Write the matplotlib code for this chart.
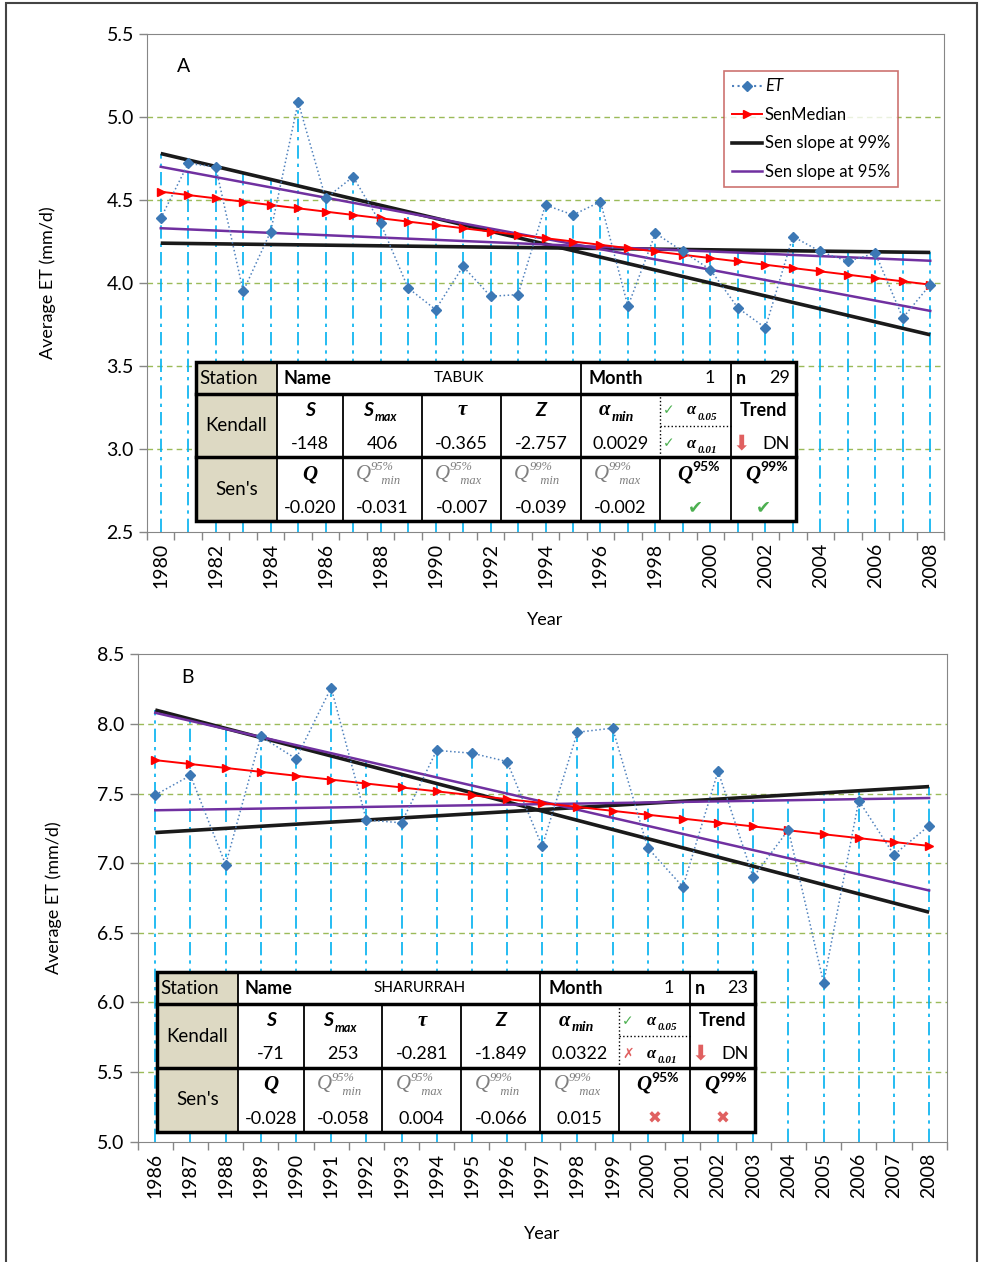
import numpy as np
import matplotlib
matplotlib.use("Agg")
import matplotlib.pyplot as plt
from matplotlib.patches import Rectangle
from matplotlib.lines import Line2D
from matplotlib.transforms import offset_copy

plt.rcParams['font.family'] = ['Lato', 'DejaVu Sans']

# ---- panel A : TABUK ----
years_a = list(range(1980, 2009))
et_a = [4.39, 4.72, 4.70, 3.95, 4.31, 5.09, 4.51, 4.64, 4.36, 3.97, 3.84, 4.10, 3.92, 3.93, 4.47,
        4.41, 4.49, 3.86, 4.30, 4.19, 4.08, 3.85, 3.73, 4.28, 4.19, 4.13, 4.18, 3.79, 3.99]
# Sen lines: value at first year and slope (Q from the table)
median_a = (4.55, -0.020)
s95_a = [(4.70, -0.031), (4.33, -0.007)]
s99_a = [(4.78, -0.039), (4.24, -0.002)]
kendall_a = ["-148", "406", "-0.365", "-2.757", "0.0029"]
sen_a = ["-0.020", "-0.031", "-0.007", "-0.039", "-0.002"]

# ---- panel B : SHARURRAH ----
years_b = list(range(1986, 2009))
et_b = [7.49, 7.63, 6.99, 7.91, 7.75, 8.26, 7.31, 7.29, 7.81, 7.79, 7.73, 7.12,
        7.94, 7.97, 7.11, 6.83, 7.66, 6.90, 7.24, 6.14, 7.45, 7.06, 7.27]
median_b = (7.74, -0.028)
s95_b = [(8.08, -0.058), (7.38, 0.004)]
s99_b = [(8.10, -0.066), (7.22, 0.015)]
kendall_b = ["-71", "253", "-0.281", "-1.849", "0.0322"]
sen_b = ["-0.028", "-0.058", "0.004", "-0.066", "0.015"]

fig = plt.figure(figsize=(9.81, 12.62), dpi=100)
fig.patches.append(Rectangle((6 / 981, -0.01), 971 / 981, 1.0077, transform=fig.transFigure,
                             fill=False, ec='#444444', lw=1.5))

GREEN = '#4caf50'
PINK = '#e06060'
W = [0.135, 0.11, 0.132, 0.132, 0.132, 0.132, 0.118, 0.109]


def hline(ax, x0, x1, y, **kw):
    ax.plot([x0, x1], [y, y], transform=ax.transAxes, clip_on=False, zorder=12, **kw)


def vline(ax, x, y0, y1, **kw):
    ax.plot([x, x], [y0, y1], transform=ax.transAxes, clip_on=False, zorder=12, **kw)


def txt(ax, x, y, s, **kw):
    kw.setdefault('ha', 'center')
    kw.setdefault('va', 'center')
    kw.setdefault('fontsize', 13)
    ax.text(x, y, s, transform=ax.transAxes, zorder=13, clip_on=False, **kw)


def combo(ax, x, y, main, sub=None, sup=None, mkw=None, skw=None, up=6):
    # main text ends at x, sub/superscript start at x
    ax.text(x, y, main, transform=ax.transAxes, ha='right', va='center', zorder=13, **mkw)
    if sup:
        t = offset_copy(ax.transAxes, fig=fig, x=0, y=up, units='points')
        ax.text(x, y, sup, transform=t, ha='left', va='center', zorder=13, **skw)
    if sub:
        t = offset_copy(ax.transAxes, fig=fig, x=1, y=-5, units='points')
        ax.text(x, y, sub, transform=t, ha='left', va='center', zorder=13, **skw)


def draw_table(ax, x0, y0, w, h, name, n, kvals, svals, a05, a01, q95, q99):
    tr = ax.transAxes
    xs = x0 + w * np.cumsum([0] + W)
    yt = y0 + h
    y1 = y0 + 0.8 * h
    y2 = y0 + 0.4 * h
    ax.add_patch(Rectangle((x0, y0), w, h, transform=tr, fc='white', ec='none', zorder=10, clip_on=False))
    ax.add_patch(Rectangle((x0, y0), xs[1] - x0, h, transform=tr, fc='#ddd9c3', ec='none',
                           zorder=10, clip_on=False))
    ax.add_patch(Rectangle((x0, y0), w, h, transform=tr, fc='none', ec='black', lw=2.5,
                           zorder=12, clip_on=False))
    hline(ax, x0, x0 + w, y1, color='black', lw=2.5)
    hline(ax, x0, x0 + w, y2, color='black', lw=2.5)
    for i in (1, 5, 7):
        vline(ax, xs[i], y1, yt, color='black', lw=1.3)
    for i in range(1, 8):
        if i == 6:
            vline(ax, xs[i], y2, y1, color='black', lw=1, ls=':')
        else:
            vline(ax, xs[i], y2, y1, color='black', lw=1.3)
        vline(ax, xs[i], y0, y2, color='black', lw=1.3)
    # dotted split in the alpha column
    hline(ax, xs[6], xs[7], (y1 + y2) / 2, color='black', lw=1, ls=':')

    rh = y1 - y2
    r1 = (yt + y1) / 2
    khead, kval = y1 - 0.26 * rh, y1 - 0.78 * rh
    shead, sval = y2 - 0.26 * rh, y2 - 0.79 * rh
    cx = (xs[:-1] + xs[1:]) / 2

    txt(ax, xs[0] + 0.004, r1, "Station", ha='left', fontsize=13.5)
    txt(ax, cx[0], (y1 + y2) / 2, "Kendall", fontsize=13.5)
    txt(ax, cx[0], (y2 + y0) / 2, "Sen's", fontsize=13.5)
    txt(ax, xs[1] + 0.008, r1, "Name", ha='left', fontweight='bold', fontsize=13)
    txt(ax, xs[1] + 0.6 * (xs[5] - xs[1]), r1, name, fontsize=11)
    txt(ax, xs[5] + 0.01, r1, "Month", ha='left', fontweight='bold', fontsize=13)
    txt(ax, xs[7] - 0.02, r1, "1", ha='right', fontsize=13)
    txt(ax, xs[7] + 0.006, r1, "n", ha='left', fontweight='bold', fontsize=13)
    txt(ax, xs[8] - 0.008, r1, n, ha='right', fontsize=13)

    bi = dict(fontsize=14, fontweight='bold', fontstyle='italic')
    bis = dict(fontsize=9, fontweight='bold', fontstyle='italic')
    serif_bi = dict(fontsize=15, fontweight='bold', fontstyle='italic', family='Liberation Serif')
    serif_bis = dict(fontsize=10, fontweight='bold', fontstyle='italic', family='Liberation Serif')
    txt(ax, cx[1], khead, "S", **bi)
    combo(ax, cx[2] - 0.012, khead, "S", sub="max", mkw=bi, skw=bis)
    txt(ax, cx[3], khead, "τ", **serif_bi)
    txt(ax, cx[4], khead, "Z", **bi)
    combo(ax, cx[5] - 0.012, khead, "α", sub="min", mkw=serif_bi, skw=serif_bis)
    for i, v in enumerate(kvals):
        txt(ax, cx[i + 1], kval, v, fontsize=13)

    marks = {True: ("✓", GREEN), False: ("✗", PINK)}
    for yy, ok, lab in ((khead, a05, "0.05"), (kval, a01, "0.01")):
        m, c = marks[ok]
        txt(ax, xs[6] + 0.011, yy, m, color=c, fontsize=10, family='DejaVu Sans')
        combo(ax, xs[6] + 0.046, yy, "α", sub=lab,
              mkw=dict(fontsize=12, fontstyle='italic', fontweight='bold', family='Liberation Serif'),
              skw=dict(fontsize=8, fontstyle='italic', fontweight='bold', family='Liberation Serif'))
    txt(ax, cx[7], khead, "Trend", fontweight='bold', fontsize=13)
    txt(ax, xs[7] + 0.013, kval, "⬇", color=PINK, fontsize=15, family='DejaVu Sans')
    txt(ax, xs[8] - 0.008, kval, "DN", ha='right', fontsize=13)

    txt(ax, cx[1], shead, "Q", **serif_bi)
    gi = dict(fontsize=15, fontstyle='italic', family='Liberation Serif', color='#7f7f7f')
    gis = dict(fontsize=9, fontstyle='italic', family='Liberation Serif', color='#7f7f7f')
    for i, (sp, sb) in enumerate((("95%", "min"), ("95%", "max"), ("99%", "min"), ("99%", "max"))):
        combo(ax, xs[i + 2] + 0.035, shead, "Q", sub="   " + sb, sup=sp, mkw=gi, skw=gis, up=5)
    for i, v in enumerate(svals):
        txt(ax, cx[i + 1], sval, v, fontsize=13)
    for k, (lab, ok) in enumerate((("95%", q95), ("99%", q99))):
        combo(ax, cx[6 + k] - 0.004, shead, "Q", sup=lab, mkw=serif_bi,
              skw=dict(fontsize=10, fontweight='bold'), up=5)
        if ok:
            txt(ax, cx[6 + k], sval, "✔", color=GREEN, fontsize=13, family='DejaVu Sans')
        else:
            txt(ax, cx[6 + k], sval, "✖", color=PINK, fontsize=12, family='DejaVu Sans')


def panel(rect, years, et, median, s95, s99, ylim, ylabels_every, letter, letter_pos, ylab_x, xlab_y):
    ax = fig.add_axes(rect)
    yrs = np.array(years)
    t = yrs - yrs[0]
    med = median[0] + median[1] * t
    l95 = [a + b * t for a, b in s95]
    l99 = [a + b * t for a, b in s99]
    tops = np.max(np.vstack([et, med] + l95 + l99), axis=0)
    ax.vlines(yrs, ylim[0], tops, colors='#00b0f0', linestyles=(0, (8, 3, 2, 3)), lw=1.2, zorder=1)
    for g in np.arange(ylim[0] + 0.5, ylim[1], 0.5):
        ax.axhline(g, color='#9bbb59', ls=(0, (4, 3)), lw=1, zorder=0.5)
    for l in l99:
        ax.plot(yrs, l, color='#1a1a1a', lw=2.6, zorder=3, solid_capstyle='butt')
    for l in l95:
        ax.plot(yrs, l, color='#7030a0', lw=1.8, zorder=3.5)
    ax.plot(yrs, med, color='#ff0000', lw=1.4, marker='>', ms=6, zorder=4)
    ax.plot(yrs, et, color='#4f81bd', ls=':', lw=1.1, marker='D', ms=5, mfc='#3c78b5',
            mec='#3c78b5', zorder=5)

    ax.set_xlim(yrs[0] - 0.5, yrs[-1] + 0.5)
    ax.set_ylim(*ylim)
    ax.set_yticks(np.arange(ylim[0], ylim[1] + 0.01, 0.5))
    ax.set_yticklabels([f"{v:.1f}" for v in np.arange(ylim[0], ylim[1] + 0.01, 0.5)], fontsize=14)
    ax.set_xticks(np.arange(yrs[0] - 0.5, yrs[-1] + 0.6, 1.0))
    ax.set_xticklabels([])
    ax.set_xticks(yrs[::ylabels_every], [str(y) for y in years[::ylabels_every]], minor=True,
                  rotation=90, fontsize=14)
    ax.tick_params(axis='x', which='minor', length=0, pad=8)
    ax.tick_params(axis='both', which='major', length=6, color='#868686', width=1)
    for s in ax.spines.values():
        s.set_color('#868686')
    ax.set_ylabel("Average ET (mm/d)", fontsize=13)
    ax.yaxis.set_label_coords(ylab_x, 0.5)
    ax.set_xlabel("Year", fontsize=13)
    ax.xaxis.set_label_coords(0.5, xlab_y)
    ax.text(letter_pos[0], letter_pos[1], letter, transform=ax.transAxes, fontsize=14, ha='center', va='center')
    return ax


ax1 = panel([147 / 981, 1 - 532 / 1262, 797 / 981, 498 / 1262], years_a, et_a, median_a, s95_a, s99_a,
            (2.5, 5.5), 2, "A", (0.046, 0.934), -0.114, -0.161)
handles = [Line2D([], [], color='#4f81bd', ls=':', marker='D', ms=5, mfc='#3c78b5', mec='#3c78b5'),
           Line2D([], [], color='#ff0000', lw=1.4, marker='>', ms=6),
           Line2D([], [], color='#1a1a1a', lw=2.6),
           Line2D([], [], color='#7030a0', lw=1.8)]
leg = ax1.legend(handles, ["ET", "SenMedian", "Sen slope at 99%", "Sen slope at 95%"],
                 loc='upper left', bbox_to_anchor=(0.724, 0.926), fontsize=12, frameon=True,
                 fancybox=False, edgecolor='#c0504d', handlelength=1.8, handletextpad=0.2,
                 borderpad=0.45, labelspacing=0.75, numpoints=1, borderaxespad=0)
leg.get_frame().set_linewidth(1.2)
leg.get_texts()[0].set_fontstyle('italic')
leg.set_zorder(20)
draw_table(ax1, 0.0615, 0.022, 0.7528, 0.319, "TABUK", "29", kendall_a, sen_a, True, True, True, True)

ax2 = panel([137.7 / 981, 1 - 1141.7 / 1262, 809 / 981, 487.4 / 1262], years_b, et_b, median_b, s95_b, s99_b,
            (5.0, 8.5), 1, "B", (0.062, 0.953), -0.093, -0.173)
draw_table(ax2, 0.0239, 0.020, 0.7391, 0.328, "SHARURRAH", "23", kendall_b, sen_b, True, False, False, False)

fig.savefig("out.png", dpi=100)
